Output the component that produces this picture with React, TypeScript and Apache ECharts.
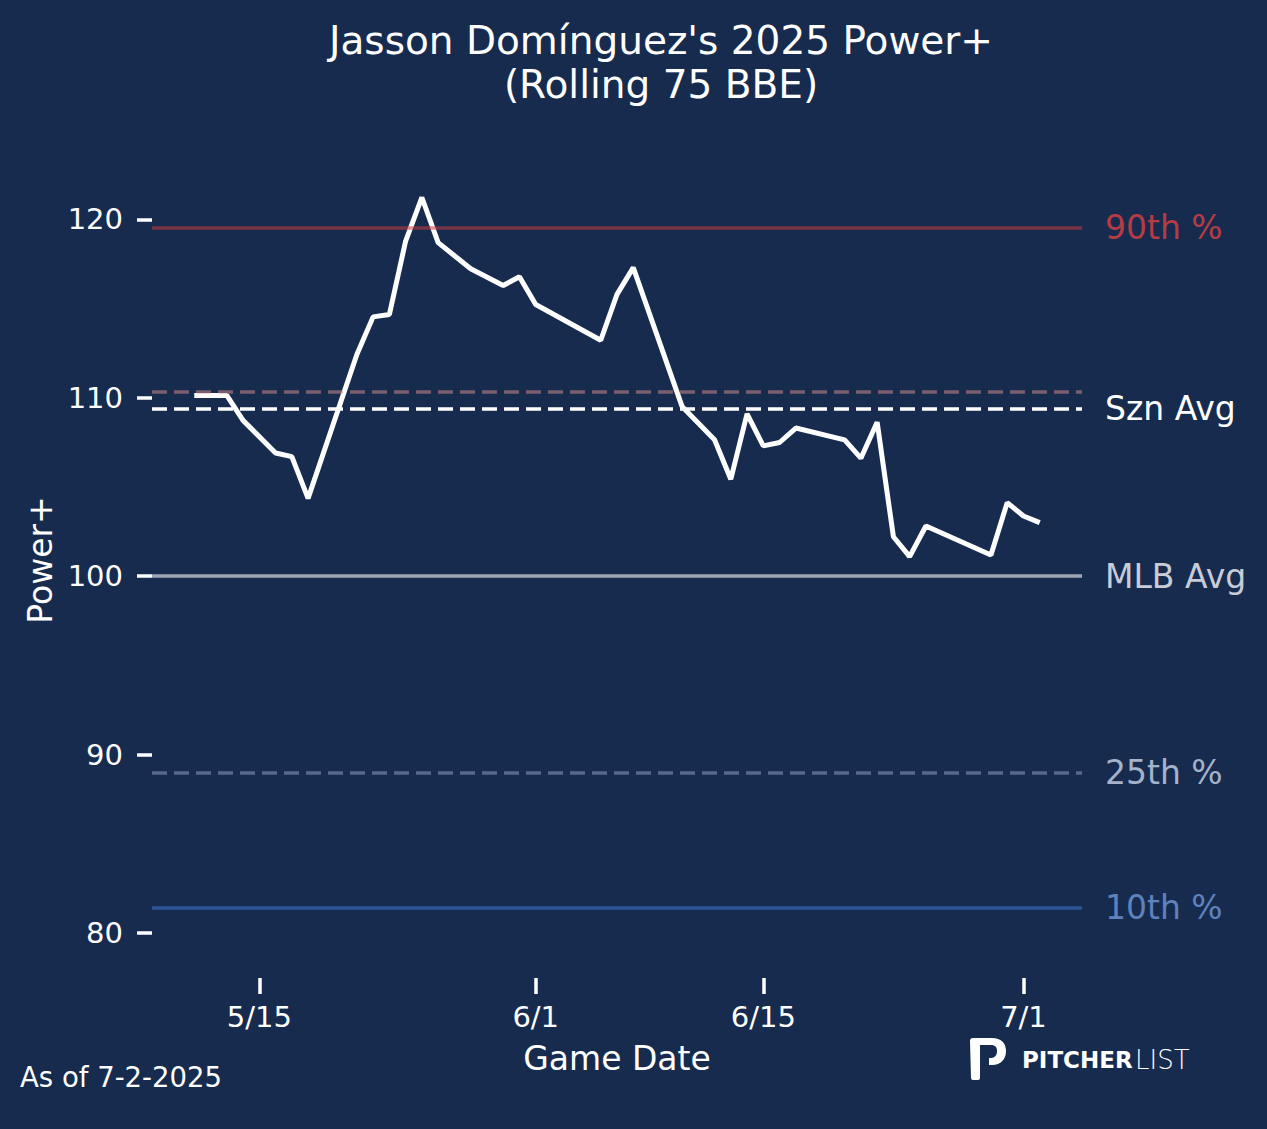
import { useEffect, useRef } from "react";
import * as echarts from "echarts";

// rolling 75 BBE Power+ by game date
const gameDates = [
  "5/11", "5/13", "5/14", "5/16", "5/17", "5/18", "5/21", "5/22", "5/23", "5/24",
  "5/25", "5/26", "5/28", "5/30", "5/31", "6/1", "6/5", "6/6", "6/7", "6/10",
  "6/12", "6/13", "6/14", "6/15", "6/16", "6/17", "6/20", "6/21", "6/22", "6/23",
  "6/24", "6/25", "6/29", "6/30", "7/1", "7/2",
];
const powerPlus = [
  110.13, 110.13, 108.73, 106.9, 106.7, 104.36, 112.42, 114.53, 114.66, 118.78,
  121.22, 118.69, 117.23, 116.29, 116.78, 115.22, 113.22, 115.79, 117.29, 109.51,
  107.64, 105.43, 109.1, 107.3, 107.49, 108.3, 107.64, 106.61, 108.63, 102.21,
  101.09, 102.81, 101.18, 104.12, 103.37, 103.0,
];

// reference lines
const refNames = ["90th %", "", "Szn Avg", "MLB Avg", "25th %", "10th %"];
const refValues = [119.53, 110.34, 109.37, 100, 88.98, 81.42];
const refLineColors = [
  "rgba(200,58,62,0.55)",
  "rgba(220,145,140,0.5)",
  "#ffffff",
  "#9ea6b6",
  "#56698c",
  "#2b5597",
];
const refLabelColors = ["#b53c44", "#ffffff", "#ffffff", "#c7ccd6", "#a4b3cc", "#5e82bb"];
const refDashed = [false, true, true, false, true, false];

const xTickLabels = ["5/15", "6/1", "6/15", "7/1"];
const yTicks = [80, 90, 100, 110, 120];

const FONT = "DejaVu Sans";
const BG = "#172b4f";

// days from 5/15
function dayOffset(md: string) {
  const [m, d] = md.split("/").map(Number);
  return (Date.UTC(2025, m - 1, d) - Date.UTC(2025, 4, 15)) / 86400000;
}

const logoPath =
  "M0 3 Q0 0 3 0 L22 0 C31 0 36 5 36 13 C36 21 31 27 22 27 L19 27 L19 20 L21 20 C25 20 27 17 27 13 C27 9 25 7 21 7 L10 7 L10 40 Q10 42 8 42 L3 42 Q1 42 1 40 Z";
echarts.graphic.registerShape("logo", echarts.graphic.extendPath(logoPath, {}));

export default function App() {
  const ref = useRef<HTMLDivElement>(null);

  useEffect(() => {
    if (!ref.current) return;
    const chart = echarts.init(ref.current, null, { renderer: "svg" });
    const tickDays = xTickLabels.map(dayOffset);

    chart.setOption({
      animation: false,
      backgroundColor: BG,
      textStyle: { fontFamily: FONT },
      grid: { left: 152, right: 185, top: 142, bottom: 151 },
      xAxis: {
        type: "value",
        min: -6.6,
        max: 50.6,
        axisLine: { show: false, onZero: false },
        splitLine: { show: false },
        axisTick: {
          show: true,
          customValues: tickDays,
          length: 16,
          lineStyle: { color: "#ffffff", width: 3.5 },
        },
        axisLabel: {
          customValues: tickDays,
          margin: 24,
          color: "#ffffff",
          fontSize: 29,
          fontFamily: FONT,
          formatter: (v: number) => xTickLabels[tickDays.indexOf(v)] ?? "",
        },
      },
      yAxis: {
        type: "value",
        min: 77.48,
        max: 124.33,
        axisLine: { show: false, onZero: false },
        splitLine: { show: false },
        axisTick: {
          show: true,
          customValues: yTicks,
          length: 15,
          lineStyle: { color: "#ffffff", width: 3.5 },
        },
        axisLabel: {
          customValues: yTicks,
          margin: 29,
          color: "#ffffff",
          fontSize: 29,
          fontFamily: FONT,
        },
      },
      series: [
        {
          type: "line",
          data: gameDates.map((d, i) => [dayOffset(d), powerPlus[i]]),
          showSymbol: false,
          symbol: "none",
          lineStyle: { color: "#ffffff", width: 5 },
          z: 2,
          silent: true,
          markLine: {
            silent: true,
            symbol: ["none", "none"],
            z: 5,
            data: refValues.map((v, i) => ({
              yAxis: v,
              lineStyle: {
                color: refLineColors[i],
                width: 3.5,
                type: refDashed[i] ? [15, 7] : "solid",
              },
              label: {
                show: refNames[i] !== "",
                position: "end",
                distance: 23,
                formatter: refNames[i],
                color: refLabelColors[i],
                fontSize: 33,
                fontFamily: FONT,
              },
            })),
          },
        },
      ],
      graphic: [
        {
          type: "text",
          x: 661,
          y: 40,
          style: {
            text: "Jasson Domínguez's 2025 Power+",
            fill: "#ffffff",
            font: `39px "${FONT}"`,
            textAlign: "center",
            textVerticalAlign: "middle",
          },
        },
        {
          type: "text",
          x: 661,
          y: 84,
          style: {
            text: "(Rolling 75 BBE)",
            fill: "#ffffff",
            font: `39px "${FONT}"`,
            textAlign: "center",
            textVerticalAlign: "middle",
          },
        },
        {
          type: "text",
          x: 617,
          y: 1058,
          style: {
            text: "Game Date",
            fill: "#ffffff",
            font: `33px "${FONT}"`,
            textAlign: "center",
            textVerticalAlign: "middle",
          },
        },
        {
          type: "text",
          x: 40,
          y: 560,
          rotation: Math.PI / 2,
          style: {
            text: "Power+",
            fill: "#ffffff",
            font: `33px "${FONT}"`,
            textAlign: "center",
            textVerticalAlign: "middle",
          },
        },
        {
          type: "text",
          x: 20,
          y: 1077,
          style: {
            text: "As of 7-2-2025",
            fill: "#ffffff",
            font: `27.5px "${FONT}"`,
            textAlign: "left",
            textVerticalAlign: "middle",
          },
        },
        {
          type: "logo",
          x: 970,
          y: 1038,
          scaleX: 1,
          scaleY: 1,
          style: { fill: "#ffffff" },
        },
        {
          type: "text",
          x: 1022,
          y: 1060,
          style: {
            text: "PITCHER",
            fill: "#ffffff",
            font: `bold 23px "${FONT}"`,
            textAlign: "left",
            textVerticalAlign: "middle",
          },
        },
        {
          type: "text",
          x: 1135,
          y: 1060,
          style: {
            text: "LIST",
            fill: "#ffffff",
            font: `200 26px "${FONT}"`,
            textAlign: "left",
            textVerticalAlign: "middle",
          },
        },
      ],
    });

    return () => chart.dispose();
  }, []);

  return (
    <div
      ref={ref}
      style={{ position: "fixed", left: 0, top: 0, width: 1267, height: 1129 }}
    />
  );
}
